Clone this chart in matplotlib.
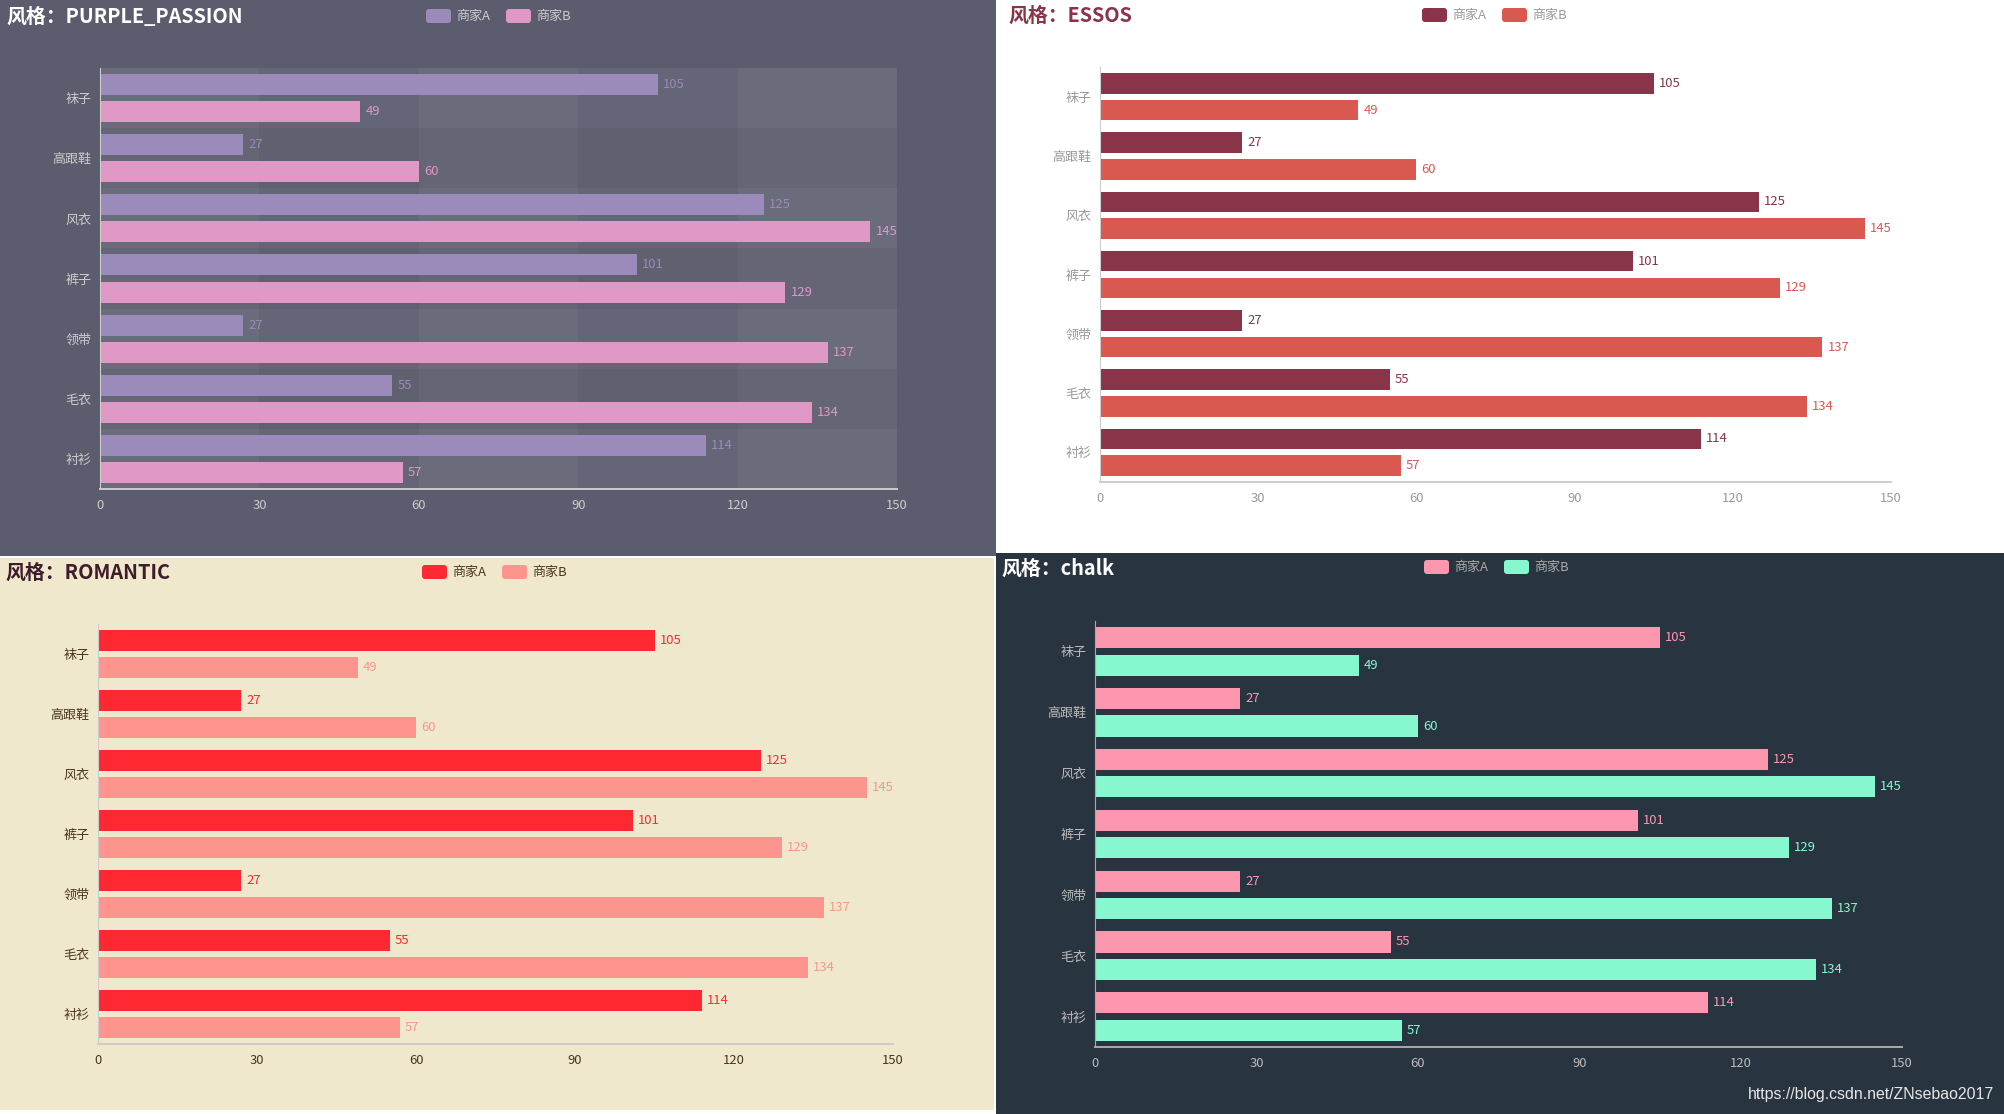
import matplotlib
matplotlib.use('Agg')
import matplotlib.pyplot as plt
from matplotlib.patches import Rectangle, FancyBboxPatch
import numpy as np

plt.rcParams['font.family'] = ['Noto Sans CJK SC', 'DejaVu Sans']

# data
categories = ['袜子', '高跟鞋', '风衣', '裤子', '领带', '毛衣', '衬衫']
merchant_a = [105, 27, 125, 101, 27, 55, 114]
merchant_b = [49, 60, 145, 129, 137, 134, 57]
series_names = ['商家A', '商家B']
theme_names = ['PURPLE_PASSION', 'ESSOS', 'ROMANTIC', 'chalk']
x_ticks = [0, 30, 60, 90, 120, 150]

W, H = 2004, 1114

# per-theme styling and layout (pixels)
themes = [
    dict(bg='#5b5c6e', colors=('#9b8bba', '#e098c7'), title='#ffffff',
         label='#cccccc', axis='#cccccc', legend='#cccccc', split=True,
         panel=(0, 0, 996, 556), plot=(100, 68, 897, 489),
         title_xy=(6, 16), legend_x=(426, 506), legend_y=16),
    dict(bg='#ffffff', colors=('#893448', '#d95850'), title='#893448',
         label='#999999', axis='#cccccc', legend='#999999', split=False,
         panel=(996, 0, 2004, 553), plot=(1100, 67, 1891, 482),
         title_xy=(1008, 15), legend_x=(1422, 1502), legend_y=15),
    dict(bg='#f0e8cd', colors=('#fe2833', '#fd948d'), title='#3e1c2c',
         label='#4a3520', axis='#cccccc', legend='#4a3520', split=False,
         panel=(0, 558, 994, 1110), plot=(98, 624, 893, 1044),
         title_xy=(5, 572), legend_x=(422, 502), legend_y=572),
    dict(bg='#293441', colors=('#fc97af', '#87f7cf'), title='#ffffff',
         label='#bbbbbb', axis='#aaaaaa', legend='#aaaaaa', split=False,
         panel=(996, 553, 2004, 1114), plot=(1095, 621, 1902, 1047),
         title_xy=(1001, 568), legend_x=(1424, 1504), legend_y=567),
]

fig = plt.figure(figsize=(W / 100, H / 100), dpi=100, facecolor='white')

# overlay for panel backgrounds, titles, legends
ov = fig.add_axes([0, 0, 1, 1], zorder=0)
ov.set_xlim(0, W)
ov.set_ylim(H, 0)
ov.axis('off')

fs = 9.4
bar_h = 0.348
offset = 0.226
y = np.arange(len(categories))

for name, th in zip(theme_names, themes):
    l, t, r, b = th['panel']
    ov.add_patch(Rectangle((l, t), r - l, b - t, facecolor=th['bg'], edgecolor='none'))

    tx, ty = th['title_xy']
    ov.text(tx, ty, '风格：' + name, color=th['title'], fontsize=14.3,
            fontweight='bold', va='center', ha='left')

    for lx, c, s in zip(th['legend_x'], th['colors'], series_names):
        ov.add_patch(FancyBboxPatch((lx, th['legend_y'] - 7), 25, 14,
                                    boxstyle='round,pad=0,rounding_size=3',
                                    facecolor=c, edgecolor='none'))
        ov.text(lx + 30, th['legend_y'], s, color=th['legend'], fontsize=fs,
                va='center', ha='left')

    pl, pt, pr, pb = th['plot']
    ax = fig.add_axes([pl / W, 1 - pb / H, (pr - pl) / W, (pb - pt) / H], zorder=1)
    ax.set_facecolor('none')
    ax.set_xlim(0, 150)
    ax.set_ylim(len(categories) - 0.5, -0.5)

    if th['split']:
        for i in range(len(categories)):
            a = 0.05 if i % 2 == 0 else 0.02
            ax.axhspan(i - 0.5, i + 0.5, color='#fafafa' if i % 2 == 0 else '#c8c8c8',
                       alpha=a, lw=0, zorder=0)
        for j in range(len(x_ticks) - 1):
            a = 0.05 if j % 2 == 0 else 0.02
            ax.axvspan(x_ticks[j], x_ticks[j + 1], color='#fafafa' if j % 2 == 0 else '#c8c8c8',
                       alpha=a, lw=0, zorder=0)

    for vals, off, c in zip((merchant_a, merchant_b), (-offset, offset), th['colors']):
        ax.barh(y + off, vals, height=bar_h, color=c, zorder=2)
        for yi, v in zip(y + off, vals):
            ax.annotate(str(v), (v, yi), xytext=(5, 0), textcoords='offset pixels',
                        color=c, fontsize=fs, va='center', ha='left')

    ax.set_yticks(y)
    ax.set_yticklabels(categories)
    ax.set_xticks(x_ticks)
    ax.tick_params(axis='both', length=0, labelsize=fs, colors=th['label'])
    ax.tick_params(axis='x', pad=7.5)
    ax.tick_params(axis='y', pad=6)
    for sp in ('top', 'right'):
        ax.spines[sp].set_visible(False)
    ax.spines['left'].set_color(th['axis'])
    ax.spines['left'].set_linewidth(0.8)
    ax.spines['bottom'].set_color(th['axis'])
    ax.spines['bottom'].set_linewidth(1.4)

ov.text(1994, 1095, 'https://blog.csdn.net/ZNsebao2017', color='#e6e6e6',
        fontsize=11.4, family='Liberation Sans', ha='right', va='center')

fig.savefig('out.png', dpi=100, facecolor='white')
